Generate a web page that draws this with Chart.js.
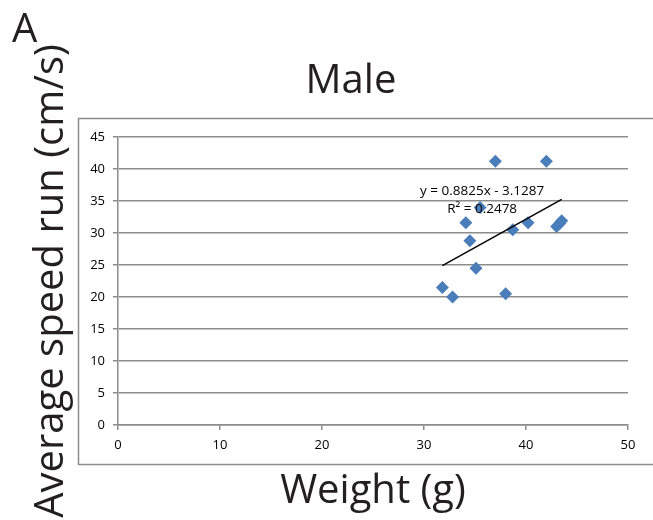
<!DOCTYPE html>
<html>
<head>
<meta charset="utf-8">
<script src="https://cdn.jsdelivr.net/npm/chart.js@4/dist/chart.umd.min.js"></script>
<style>
  body { margin: 0; background: #fff; }
  canvas { display: block; }
</style>
</head>
<body>
<canvas id="chart" width="653" height="520"></canvas>
<script>
// weight (g) vs average run speed (cm/s), males
var weightX = [31.8, 32.8, 34.1, 34.5, 35.1, 35.5, 37.0, 38.0, 38.7, 40.2, 42.0, 43.0, 43.3, 43.5];
var speedY  = [21.5, 20.0, 31.6, 28.8, 24.5, 34.0, 41.2, 20.5, 30.5, 31.6, 41.2, 31.0, 31.5, 31.9];

// trendline end points as drawn in the picture
var trendX = [31.8, 43.5];
var trendY = [24.9, 35.25];

var eqLines = ['y = 0.8825x - 3.1287', 'R\u00b2 = 0.2478'];
var eqAt = {x: 35.7, y: [36.55, 33.75]};

var yTicks = [0, 5, 10, 15, 20, 25, 30, 35, 40, 45];
var xTicks = [0, 10, 20, 30, 40, 50];

var gray = '#8c8c8c';
var font = "'Open Sans', sans-serif";

function toPoints(xs, ys){
    var pts = [];
    for(var i = 0; i < xs.length; i++) pts.push({x: xs[i], y: ys[i]});
    return pts;
}

var extras = {
    id: 'extras',
    beforeDraw: function(chart){
        var ctx = chart.ctx;
        ctx.save();
        ctx.strokeStyle = gray;
        ctx.lineWidth = 1.5;
        ctx.strokeRect(78.5, 118.5, 700, 346);
        ctx.fillStyle = '#231f20';
        ctx.font = '40px ' + font;
        ctx.textBaseline = 'alphabetic';
        ctx.textAlign = 'left';
        ctx.fillText('A', 12, 42);
        ctx.textAlign = 'center';
        ctx.fillText('Male', 351, 93);
        ctx.restore();
    },
    afterDatasetsDraw: function(chart){
        var ctx = chart.ctx;
        var xs = chart.scales.x, ys = chart.scales.y;
        ctx.save();
        ctx.fillStyle = '#000';
        ctx.font = '13.5px ' + font;
        ctx.textAlign = 'center';
        ctx.textBaseline = 'middle';
        for(var i = 0; i < eqLines.length; i++){
            ctx.fillText(eqLines[i], xs.getPixelForValue(eqAt.x), ys.getPixelForValue(eqAt.y[i]));
        }
        ctx.restore();
    }
};

var chartEl = document.getElementById('chart');
var scatter = new Chart(chartEl, {
    type: 'scatter',
    data: {
        datasets: [{
            type: 'line',
            data: toPoints(trendX, trendY),
            borderColor: '#000',
            borderWidth: 1.5,
            pointRadius: 0,
            fill: false
        }, {
            data: toPoints(weightX, speedY),
            pointStyle: 'rectRot',
            pointRadius: 6.5,
            pointBackgroundColor: '#4a7ebb',
            pointBorderColor: '#4a7ebb',
            pointBorderWidth: 0
        }]
    },
    options: {
        responsive: false,
        animation: false,
        layout: { padding: { top: 137, right: 25, left: 0, bottom: 0 } },
        plugins: {
            legend: { display: false },
            tooltip: { enabled: false }
        },
        scales: {
            x: {
                type: 'linear',
                min: 0, max: 50,
                afterFit: function(s){ s.height = 95; },
                afterBuildTicks: function(s){ s.ticks = xTicks.map(function(v){ return {value: v}; }); },
                grid: { drawOnChartArea: false, drawTicks: true, tickLength: 5, color: gray, lineWidth: 1.5 },
                border: { color: gray, width: 1.5 },
                ticks: { color: '#000', padding: 7, maxRotation: 0, font: { family: font, size: 13 } },
                title: {
                    display: true,
                    text: 'Weight (g)',
                    color: '#231f20',
                    padding: { top: 0, bottom: 4 },
                    font: { family: font, size: 40 }
                }
            },
            y: {
                type: 'linear',
                min: 0, max: 45,
                afterFit: function(s){ s.width = 118; },
                afterBuildTicks: function(s){ s.ticks = yTicks.map(function(v){ return {value: v}; }); },
                grid: { drawTicks: true, tickLength: 5, color: gray, lineWidth: 1.5 },
                border: { color: gray, width: 1.5 },
                ticks: { color: '#000', padding: 8, font: { family: font, size: 13 } },
                title: {
                    display: true,
                    text: 'Average speed run (cm/s)',
                    color: '#231f20',
                    padding: { top: 28, bottom: 0 },
                    font: { family: font, size: 40 }
                }
            }
        }
    },
    plugins: [extras]
});
</script>
</body>
</html>
